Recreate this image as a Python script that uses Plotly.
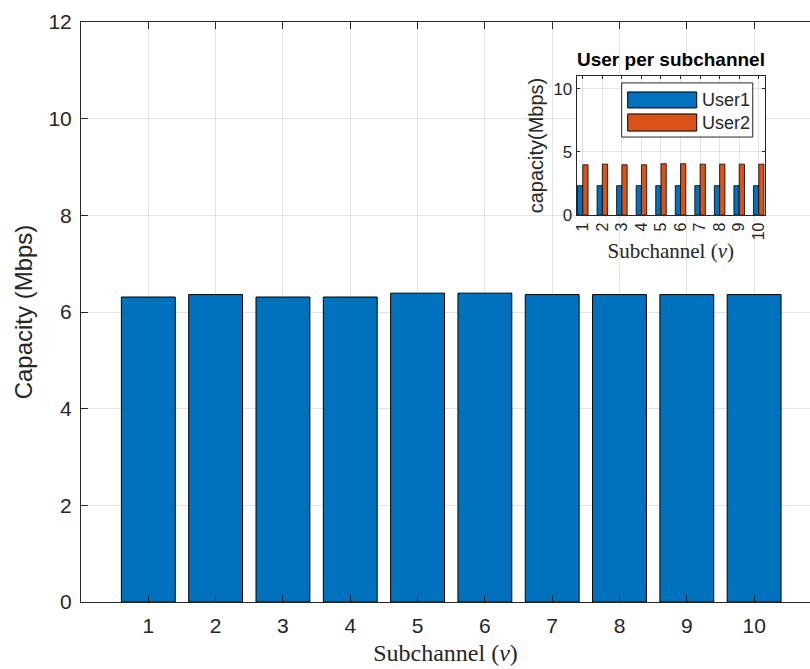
import plotly.graph_objects as go

# ---- data ----
subchannels = [1, 2, 3, 4, 5, 6, 7, 8, 9, 10]
total_capacity = [6.31, 6.36, 6.31, 6.31, 6.39, 6.39, 6.36, 6.36, 6.36, 6.36]
user1_capacity = [2.33, 2.33, 2.33, 2.33, 2.33, 2.33, 2.33, 2.33, 2.33, 2.33]
user2_capacity = [3.98, 4.03, 3.98, 3.98, 4.06, 4.06, 4.03, 4.03, 4.03, 4.03]
series_names = ["User1", "User2"]
main_yticks = [0, 2, 4, 6, 8, 10, 12]
inset_yticks = [0, 5, 10]

BLUE = "#0072BD"
ORANGE = "#D95319"
AX = "#262626"
GRID = "#e3e3e3"
SANS = "Liberation Sans, Arial, sans-serif"
SERIF = "Liberation Serif, Times New Roman, serif"

fig = go.Figure()

fig.add_trace(go.Bar(
    x=subchannels, y=total_capacity, width=0.8,
    marker=dict(color=BLUE, line=dict(color="black", width=1)),
    showlegend=False, xaxis="x", yaxis="y"))

fig.add_trace(go.Bar(
    x=subchannels, y=user1_capacity, width=0.27, offset=-0.27,
    name=series_names[0],
    marker=dict(color=BLUE, line=dict(color="black", width=0.8)),
    showlegend=False, xaxis="x2", yaxis="y2"))
fig.add_trace(go.Bar(
    x=subchannels, y=user2_capacity, width=0.27, offset=0.0,
    name=series_names[1],
    marker=dict(color=ORANGE, line=dict(color="black", width=0.8)),
    showlegend=False, xaxis="x2", yaxis="y2"))

# inset legend (drawn manually to mimic MATLAB's wide swatches)
shapes = [
    dict(type="rect", xref="x2 domain", yref="y2 domain",
         x0=0.239, x1=0.936, y0=0.561, y1=0.950,
         fillcolor="white", line=dict(color=AX, width=1), layer="above"),
    dict(type="rect", xref="x2 domain", yref="y2 domain",
         x0=0.271, x1=0.638, y0=0.770, y1=0.885,
         fillcolor=BLUE, line=dict(color="black", width=1), layer="above"),
    dict(type="rect", xref="x2 domain", yref="y2 domain",
         x0=0.271, x1=0.638, y0=0.604, y1=0.727,
         fillcolor=ORANGE, line=dict(color="black", width=1), layer="above"),
]
annotations = [
    dict(text=series_names[0], xref="x2 domain", yref="y2 domain",
         x=0.655, y=0.827, xanchor="left", yanchor="middle", showarrow=False,
         font=dict(family=SANS, size=18, color=AX)),
    dict(text=series_names[1], xref="x2 domain", yref="y2 domain",
         x=0.655, y=0.665, xanchor="left", yanchor="middle", showarrow=False,
         font=dict(family=SANS, size=18, color=AX)),
    dict(text="<b>User per subchannel</b>", xref="x2 domain", yref="y2 domain",
         x=0.5, y=1.0, xanchor="center", yanchor="bottom", yshift=4,
         showarrow=False, font=dict(family=SANS, size=19, color="black")),
]

fig.update_layout(
    width=810, height=669,
    margin=dict(l=81, r=0, t=22, b=67, autoexpand=False),
    paper_bgcolor="white", plot_bgcolor="white",
    barmode="overlay",
    shapes=shapes, annotations=annotations,
    xaxis=dict(
        domain=[0, 1], range=[0, 10.83], tickvals=subchannels,
        automargin=False,
        showgrid=True, gridcolor=GRID, gridwidth=1,
        showline=True, linecolor=AX, linewidth=1, mirror="ticks",
        ticks="inside", ticklen=7, tickcolor=AX,
        tickfont=dict(family=SANS, size=21, color=AX),
        ticklabelstandoff=5,
        title=dict(text="Subchannel (<i>v</i>)", standoff=7,
                   font=dict(family=SERIF, size=24, color=AX)),
        zeroline=False),
    yaxis=dict(
        domain=[0, 1], range=[0, 12], tickvals=main_yticks,
        automargin=False,
        showgrid=True, gridcolor=GRID, gridwidth=1,
        showline=True, linecolor=AX, linewidth=1, mirror=False,
        ticks="inside", ticklen=7, tickcolor=AX,
        tickfont=dict(family=SANS, size=21, color=AX),
        ticklabelstandoff=4,
        title=dict(text="Capacity (Mbps)", standoff=9,
                   font=dict(family=SANS, size=24, color=AX)),
        zeroline=False),
    xaxis2=dict(
        domain=[0.680, 0.938], anchor="y2", range=[0.69, 10.31],
        automargin=False,
        tickvals=subchannels, tickangle=-90,
        showgrid=True, gridcolor=GRID, gridwidth=1,
        showline=True, linecolor=AX, linewidth=1, mirror="ticks",
        ticks="inside", ticklen=3, tickcolor=AX,
        tickfont=dict(family=SANS, size=16, color=AX),
        title=dict(text="Subchannel (<i>v</i>)", standoff=3,
                   font=dict(family=SERIF, size=21, color=AX)),
        zeroline=False),
    yaxis2=dict(
        domain=[0.667, 0.907], anchor="x2", range=[0, 11],
        automargin=False,
        tickvals=inset_yticks,
        showgrid=True, gridcolor=GRID, gridwidth=1,
        showline=True, linecolor=AX, linewidth=1, mirror="ticks",
        ticks="inside", ticklen=3, tickcolor=AX,
        tickfont=dict(family=SANS, size=17, color=AX),
        title=dict(text="capacity(Mbps)", standoff=4,
                   font=dict(family=SANS, size=20, color=AX)),
        zeroline=False),
)

fig.write_html("out.html",
               config={"displayModeBar": False},
               post_script="document.body.style.margin='0';"
                           "document.body.style.overflow='hidden';")
